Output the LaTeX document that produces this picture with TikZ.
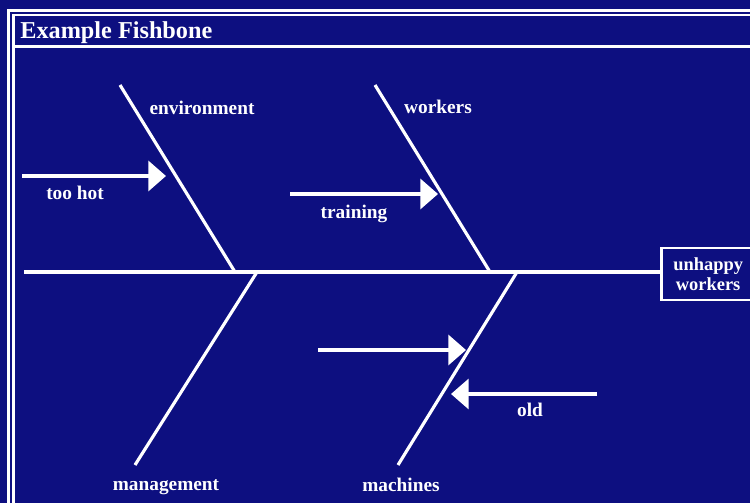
\documentclass[tikz,border=0pt]{standalone}
\usepackage{fontspec}
\setmainfont{Liberation Serif}
\usetikzlibrary{arrows.meta}
\definecolor{fishblue}{RGB}{13,15,128}
\tikzset{
  bone/.style={white,line width=1.8pt},
  frame/.style={white,line width=1.2pt},
  cause/.style={white,line width=1.8pt,-{Triangle[length=10pt,width=17pt]}},
  lbl/.style={text=white,font=\bfseries\fontsize{11}{12}\selectfont,inner sep=0pt}
}
\begin{document}
\begin{tikzpicture}[x=0.02cm,y=-0.02cm]
\fill[fishblue] (0,0) rectangle (750,503);
\useasboundingbox (0,0) rectangle (750,503);

\draw[frame] (8.5,503) -- (8.5,10.5) -- (750,10.5);
\draw[frame] (13.5,503) -- (13.5,15) -- (750,15);
\draw[frame] (13.5,46.5) -- (750,46.5);
\node[lbl,font=\bfseries\fontsize{13.8}{15}\selectfont,anchor=west] (title) at (20,33) {Example Fishbone};

\node[draw=white,line width=1.5pt,inner sep=0pt,
  minimum height=52*0.567pt,minimum width=94*0.567pt,anchor=west,
  align=center,lbl,font=\bfseries\fontsize{10.5}{11.5}\selectfont] (effect) at (660,274) {unhappy\\workers};
\coordinate (tail) at (24,272);
\draw[bone] (tail) -- (tail -| effect.west);

\coordinate (env1) at (120,85);   \coordinate (env2) at (235,272);
\coordinate (wrk1) at (375,85);   \coordinate (wrk2) at (490,272);
\coordinate (mgt1) at (257,272);  \coordinate (mgt2) at (135,465);
\coordinate (mac1) at (517,272);  \coordinate (mac2) at (398,465);
\draw[bone] (env1) -- (env2);
\draw[bone] (wrk1) -- (wrk2);
\draw[bone] (mgt1) -- (mgt2);
\draw[bone] (mac1) -- (mac2);

\node[lbl] (environment) at (202,108) {environment};
\node[lbl] (workers) at (438,107) {workers};
\node[lbl] (management) at (166,487) {management};
\node[lbl] (machines) at (401,485) {machines};

\coordinate (hot1) at (22,176);   \coordinate (hot2) at (166,176);
\coordinate (trn1) at (290,194);  \coordinate (trn2) at (438,194);
\coordinate (mid1) at (318,350);  \coordinate (mid2) at (466,350);
\coordinate (old1) at (597,394);  \coordinate (old2) at (451,394);
\draw[cause] (hot1) -- (hot2);
\draw[cause] (trn1) -- (trn2);
\draw[cause] (mid1) -- (mid2);
\draw[cause] (old1) -- (old2);

\node[lbl] (toohot) at (75,193) {too hot};
\node[lbl] (training) at (354,214) {training};
\node[lbl] (old) at (530,410) {old};
\end{tikzpicture}
\end{document}
